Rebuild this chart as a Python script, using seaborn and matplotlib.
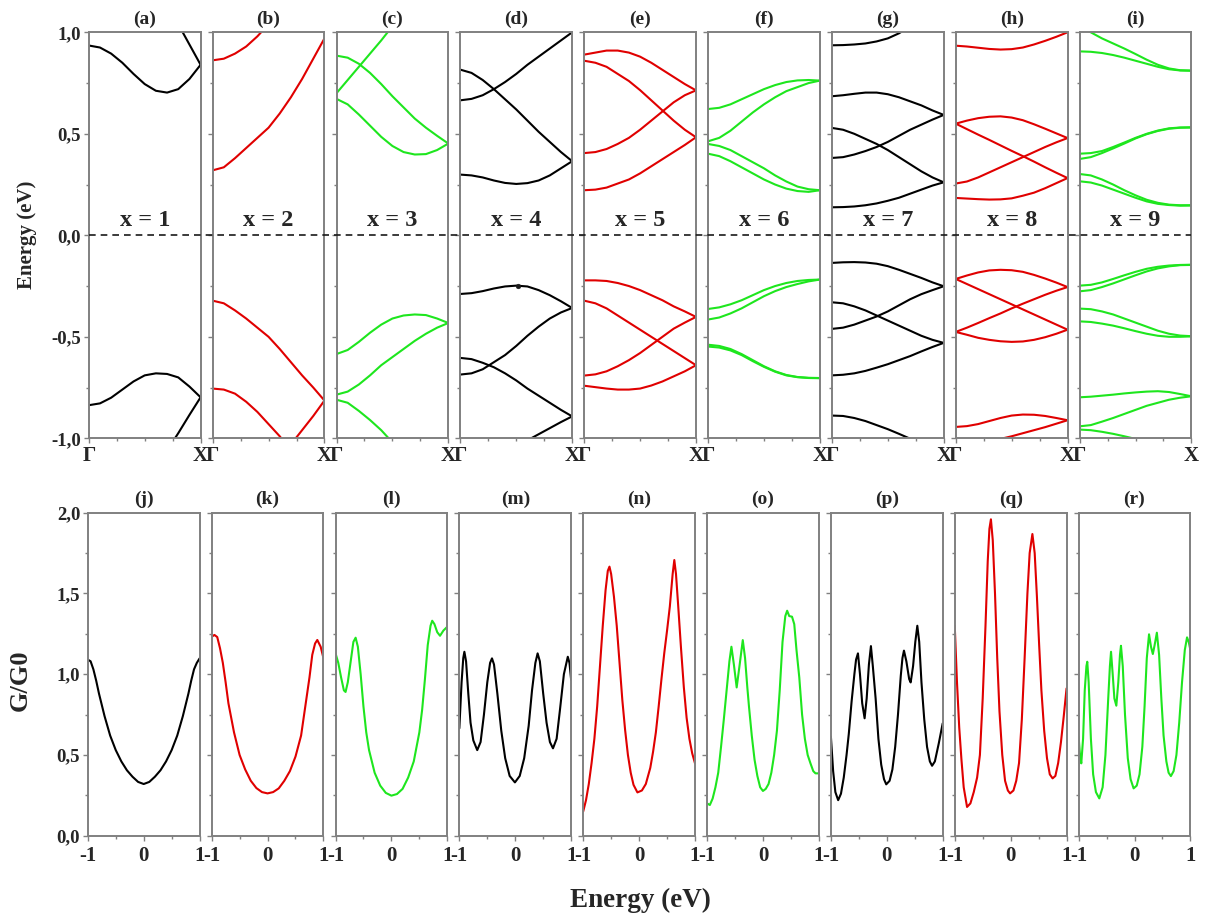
import numpy as np
import matplotlib
matplotlib.use("Agg")
import matplotlib.pyplot as plt
import seaborn as sns
from matplotlib.ticker import FixedLocator, FuncFormatter, NullFormatter

sns.set_theme(style="white")
plt.rcParams["font.family"] = ["Liberation Serif", "DejaVu Serif"]
plt.rcParams["font.weight"] = "bold"

N = np.nan
K = [0.0, 0.1, 0.2, 0.3, 0.4, 0.5, 0.6, 0.7, 0.8, 0.9, 1.0]

# ---------------- band structures (E at K) ----------------
bands_a = [
    [0.935, 0.925, 0.895, 0.85, 0.795, 0.745, 0.712, 0.703, 0.72, 0.77, 0.84],
    [N, N, N, N, N, N, N, N, 1.04, 0.94, 0.84],
    [-0.837, -0.828, -0.80, -0.76, -0.72, -0.69, -0.68, -0.683, -0.70, -0.745, -0.798],
    [N, N, N, N, N, N, N, -1.06, -0.975, -0.885, -0.798],
]
bands_b = [
    [0.862, 0.87, 0.895, 0.93, 0.98, 1.04, N, N, N, N, N],
    [0.32, 0.335, 0.38, 0.43, 0.48, 0.53, 0.6, 0.68, 0.77, 0.87, 0.97],
    [-0.322, -0.335, -0.37, -0.41, -0.455, -0.5, -0.56, -0.625, -0.69, -0.75, -0.814],
    [-0.755, -0.76, -0.78, -0.82, -0.87, -0.93, -0.99, -1.06, N, N, N],
    [N, N, N, N, N, N, -1.10, -1.03, -0.96, -0.89, -0.814],
]
bands_c = [
    [0.70, 0.765, 0.83, 0.895, 0.96, 1.03, N, N, N, N, N],
    [0.885, 0.875, 0.845, 0.80, 0.745, 0.685, 0.63, 0.575, 0.53, 0.49, 0.452],
    [0.672, 0.645, 0.595, 0.54, 0.485, 0.44, 0.41, 0.398, 0.40, 0.42, 0.452],
    [-0.585, -0.565, -0.525, -0.48, -0.44, -0.41, -0.395, -0.39, -0.393, -0.41, -0.432],
    [-0.785, -0.77, -0.735, -0.69, -0.64, -0.60, -0.56, -0.52, -0.485, -0.455, -0.432],
    [-0.81, -0.825, -0.865, -0.91, -0.96, -1.02, N, N, N, N, N],
]
bands_d = [
    [0.665, 0.672, 0.69, 0.72, 0.755, 0.795, 0.84, 0.88, 0.92, 0.96, 1.0],
    [0.816, 0.80, 0.765, 0.72, 0.67, 0.62, 0.565, 0.51, 0.46, 0.41, 0.365],
    [0.299, 0.295, 0.285, 0.27, 0.258, 0.253, 0.257, 0.27, 0.295, 0.33, 0.365],
    [-0.289, -0.285, -0.275, -0.262, -0.252, -0.248, -0.252, -0.27, -0.295, -0.325, -0.358],
    [-0.686, -0.68, -0.66, -0.625, -0.59, -0.545, -0.495, -0.45, -0.41, -0.38, -0.358],
    [-0.604, -0.61, -0.628, -0.65, -0.68, -0.715, -0.755, -0.79, -0.825, -0.86, -0.892],
    [N, N, N, N, N, N, -1.01, -0.98, -0.95, -0.92, -0.892],
]
dot_d = [0.52, -0.248]
bands_e = [
    [0.89, 0.90, 0.91, 0.91, 0.90, 0.88, 0.85, 0.815, 0.78, 0.745, 0.714],
    [0.86, 0.85, 0.83, 0.795, 0.76, 0.715, 0.665, 0.615, 0.565, 0.52, 0.483],
    [0.405, 0.41, 0.425, 0.45, 0.48, 0.52, 0.565, 0.61, 0.655, 0.69, 0.714],
    [0.222, 0.225, 0.235, 0.255, 0.275, 0.305, 0.34, 0.375, 0.41, 0.445, 0.483],
    [-0.222, -0.222, -0.225, -0.235, -0.25, -0.27, -0.295, -0.32, -0.35, -0.375, -0.402],
    [-0.322, -0.335, -0.36, -0.395, -0.43, -0.465, -0.50, -0.535, -0.57, -0.605, -0.64],
    [-0.691, -0.685, -0.67, -0.645, -0.615, -0.58, -0.54, -0.50, -0.46, -0.43, -0.402],
    [-0.741, -0.748, -0.755, -0.76, -0.76, -0.755, -0.74, -0.72, -0.695, -0.67, -0.64],
]
bands_f = [
    [0.622, 0.628, 0.645, 0.67, 0.695, 0.72, 0.74, 0.755, 0.763, 0.765, 0.762],
    [0.463, 0.48, 0.515, 0.56, 0.605, 0.645, 0.68, 0.71, 0.73, 0.75, 0.762],
    [0.45, 0.44, 0.42, 0.39, 0.36, 0.33, 0.295, 0.265, 0.24, 0.227, 0.222],
    [0.402, 0.39, 0.365, 0.335, 0.305, 0.275, 0.25, 0.23, 0.218, 0.214, 0.222],
    [-0.363, -0.355, -0.34, -0.32, -0.295, -0.27, -0.25, -0.235, -0.225, -0.22, -0.218],
    [-0.415, -0.405, -0.385, -0.36, -0.33, -0.30, -0.275, -0.255, -0.24, -0.227, -0.218],
    [-0.539, -0.545, -0.56, -0.585, -0.615, -0.645, -0.67, -0.688, -0.698, -0.702, -0.703],
    [-0.548, -0.553, -0.567, -0.59, -0.62, -0.648, -0.672, -0.69, -0.699, -0.703, -0.704],
]
bands_g = [
    [0.936, 0.937, 0.94, 0.945, 0.955, 0.97, 0.995, 1.03, N, N, N],
    [0.685, 0.69, 0.697, 0.703, 0.703, 0.695, 0.68, 0.66, 0.64, 0.615, 0.593],
    [0.529, 0.52, 0.50, 0.475, 0.45, 0.42, 0.385, 0.35, 0.315, 0.285, 0.261],
    [0.381, 0.385, 0.398, 0.415, 0.435, 0.46, 0.49, 0.52, 0.545, 0.57, 0.593],
    [0.138, 0.139, 0.142, 0.148, 0.157, 0.17, 0.185, 0.205, 0.225, 0.245, 0.261],
    [-0.136, -0.133, -0.132, -0.134, -0.14, -0.152, -0.17, -0.19, -0.21, -0.232, -0.251],
    [-0.33, -0.335, -0.35, -0.37, -0.395, -0.42, -0.445, -0.47, -0.495, -0.515, -0.53],
    [-0.461, -0.455, -0.44, -0.42, -0.40, -0.375, -0.345, -0.315, -0.29, -0.27, -0.251],
    [-0.69, -0.687, -0.68, -0.668, -0.652, -0.635, -0.615, -0.595, -0.572, -0.55, -0.53],
    [-0.888, -0.89, -0.90, -0.915, -0.935, -0.955, -0.978, -1.002, -1.03, N, N],
]
bands_h = [
    [0.934, 0.93, 0.924, 0.918, 0.915, 0.917, 0.925, 0.94, 0.958, 0.978, 1.0],
    [0.55, 0.565, 0.577, 0.584, 0.586, 0.58, 0.567, 0.547, 0.525, 0.502, 0.479],
    [0.55, 0.523, 0.496, 0.47, 0.443, 0.416, 0.39, 0.363, 0.335, 0.308, 0.282],
    [0.255, 0.265, 0.285, 0.31, 0.335, 0.36, 0.385, 0.41, 0.435, 0.458, 0.479],
    [0.184, 0.181, 0.178, 0.176, 0.177, 0.182, 0.195, 0.21, 0.232, 0.257, 0.282],
    [-0.215, -0.198, -0.183, -0.173, -0.17, -0.172, -0.18, -0.195, -0.213, -0.233, -0.255],
    [-0.215, -0.24, -0.265, -0.29, -0.315, -0.34, -0.365, -0.39, -0.415, -0.44, -0.465],
    [-0.476, -0.455, -0.432, -0.408, -0.385, -0.36, -0.337, -0.315, -0.293, -0.273, -0.255],
    [-0.476, -0.49, -0.505, -0.515, -0.522, -0.525, -0.523, -0.515, -0.502, -0.485, -0.465],
    [-0.944, -0.94, -0.93, -0.915, -0.90, -0.888, -0.883, -0.884, -0.89, -0.90, -0.911],
    [N, N, N, N, -1.003, -0.99, -0.975, -0.96, -0.945, -0.928, -0.911],
]
bands_i = [
    [1.03, 1.0, 0.97, 0.945, 0.92, 0.893, 0.865, 0.84, 0.822, 0.813, 0.811],
    [0.906, 0.904, 0.898, 0.888, 0.875, 0.86, 0.845, 0.83, 0.818, 0.812, 0.811],
    [0.402, 0.405, 0.415, 0.435, 0.457, 0.48, 0.50, 0.516, 0.527, 0.531, 0.532],
    [0.376, 0.385, 0.405, 0.428, 0.452, 0.477, 0.498, 0.514, 0.525, 0.53, 0.531],
    [0.302, 0.295, 0.275, 0.25, 0.222, 0.197, 0.175, 0.16, 0.151, 0.148, 0.148],
    [0.266, 0.26, 0.245, 0.225, 0.205, 0.185, 0.167, 0.155, 0.149, 0.146, 0.147],
    [-0.248, -0.244, -0.232, -0.215, -0.197, -0.18, -0.165, -0.155, -0.149, -0.146, -0.145],
    [-0.276, -0.27, -0.255, -0.237, -0.217, -0.197, -0.178, -0.163, -0.153, -0.147, -0.146],
    [-0.361, -0.364, -0.375, -0.39, -0.41, -0.43, -0.45, -0.47, -0.485, -0.494, -0.497],
    [-0.424, -0.427, -0.435, -0.445, -0.458, -0.472, -0.485, -0.495, -0.50, -0.50, -0.498],
    [-0.798, -0.795, -0.79, -0.785, -0.779, -0.774, -0.77, -0.768, -0.772, -0.782, -0.793],
    [-0.941, -0.935, -0.918, -0.90, -0.88, -0.86, -0.84, -0.825, -0.81, -0.80, -0.793],
    [-0.957, -0.96, -0.968, -0.978, -0.99, -1.003, N, N, N, N, N],
]
band_sets = [bands_a, bands_b, bands_c, bands_d, bands_e, bands_f, bands_g, bands_h, bands_i]
top_titles = ["(a)", "(b)", "(c)", "(d)", "(e)", "(f)", "(g)", "(h)", "(i)"]
x_labels = ["x = 1", "x = 2", "x = 3", "x = 4", "x = 5", "x = 6", "x = 7", "x = 8", "x = 9"]

# ---------------- conductance G/G0 vs energy ----------------
e_j = [-1, -0.95, -0.9, -0.85, -0.8, -0.75, -0.7, -0.6, -0.5, -0.4, -0.3, -0.2, -0.1, 0,
       0.1, 0.2, 0.3, 0.4, 0.5, 0.6, 0.7, 0.75, 0.8, 0.85, 0.9, 0.95, 1.0]
g_j = [1.09, 1.08, 1.03, 0.96, 0.88, 0.81, 0.74, 0.62, 0.53, 0.46, 0.405, 0.365, 0.333, 0.32,
       0.333, 0.365, 0.405, 0.46, 0.53, 0.62, 0.74, 0.81, 0.88, 0.96, 1.03, 1.07, 1.098]
e_k = [-1, -0.95, -0.9, -0.85, -0.8, -0.75, -0.7, -0.6, -0.5, -0.4, -0.3, -0.2, -0.1, 0,
       0.1, 0.2, 0.3, 0.4, 0.5, 0.6, 0.7, 0.75, 0.8, 0.85, 0.89, 0.95, 1.0]
g_k = [1.232, 1.243, 1.23, 1.16, 1.07, 0.95, 0.82, 0.64, 0.50, 0.41, 0.34, 0.295, 0.27, 0.262,
       0.27, 0.293, 0.34, 0.40, 0.49, 0.62, 0.86, 0.98, 1.12, 1.19, 1.212, 1.17, 1.10]
e_l = [-1, -0.95, -0.9, -0.85, -0.82, -0.78, -0.72, -0.68, -0.64, -0.6, -0.55, -0.5, -0.45, -0.4,
       -0.3, -0.2, -0.1, 0, 0.1, 0.2, 0.3, 0.4, 0.5, 0.55, 0.6, 0.65, 0.7, 0.73, 0.77, 0.82,
       0.87, 0.93, 1.0]
g_l = [1.13, 1.07, 0.98, 0.90, 0.89, 0.95, 1.10, 1.20, 1.226, 1.17, 1.0, 0.80, 0.64, 0.53,
       0.39, 0.31, 0.265, 0.248, 0.258, 0.29, 0.36, 0.46, 0.64, 0.78, 0.97, 1.18, 1.30, 1.331,
       1.31, 1.26, 1.238, 1.27, 1.294]
e_m = [-1, -0.96, -0.93, -0.91, -0.88, -0.84, -0.8, -0.75, -0.68, -0.62, -0.56, -0.5, -0.45,
       -0.416, -0.38, -0.32, -0.25, -0.18, -0.1, -0.006, 0.08, 0.16, 0.24, 0.3, 0.36, 0.40,
       0.44, 0.5, 0.56, 0.62, 0.675, 0.74, 0.8, 0.87, 0.94, 0.97, 1.0]
g_m = [0.665, 0.95, 1.1, 1.139, 1.08, 0.88, 0.70, 0.59, 0.53, 0.58, 0.75, 0.95, 1.07,
       1.098, 1.06, 0.88, 0.65, 0.48, 0.37, 0.33, 0.37, 0.48, 0.68, 0.90, 1.07, 1.129,
       1.08, 0.88, 0.70, 0.58, 0.541, 0.60, 0.78, 1.0, 1.108, 1.07, 0.964]
e_n = [-1, -0.95, -0.9, -0.85, -0.8, -0.75, -0.7, -0.65, -0.6, -0.56, -0.53, -0.5, -0.45, -0.4,
       -0.35, -0.3, -0.25, -0.2, -0.15, -0.1, -0.03, 0.05, 0.12, 0.2, 0.25, 0.3, 0.35, 0.4,
       0.45, 0.5, 0.55, 0.6, 0.63, 0.66, 0.7, 0.75, 0.8, 0.85, 0.9, 0.95, 1.0]
g_n = [0.15, 0.22, 0.32, 0.45, 0.60, 0.80, 1.05, 1.30, 1.52, 1.64, 1.666, 1.62, 1.48, 1.30,
       1.07, 0.84, 0.654, 0.50, 0.39, 0.315, 0.268, 0.28, 0.32, 0.42, 0.52, 0.64, 0.80, 0.97,
       1.13, 1.27, 1.42, 1.62, 1.707, 1.62, 1.42, 1.16, 0.92, 0.73, 0.60, 0.51, 0.448]
e_o = [-1, -0.95, -0.9, -0.85, -0.8, -0.75, -0.7, -0.65, -0.6, -0.564, -0.52, -0.47, -0.42,
       -0.361, -0.32, -0.28, -0.25, -0.2, -0.15, -0.1, -0.05, 0, 0.05, 0.1, 0.15, 0.2, 0.25,
       0.3, 0.35, 0.4, 0.433, 0.47, 0.52, 0.56, 0.6, 0.65, 0.7, 0.75, 0.8, 0.85, 0.9, 0.94, 1.0]
g_o = [0.20, 0.19, 0.23, 0.30, 0.39, 0.55, 0.72, 0.90, 1.08, 1.17, 1.06, 0.918, 1.05,
       1.211, 1.10, 0.92, 0.80, 0.62, 0.47, 0.37, 0.30, 0.277, 0.29, 0.32, 0.39, 0.50, 0.65,
       0.90, 1.20, 1.36, 1.393, 1.36, 1.356, 1.31, 1.15, 0.98, 0.75, 0.60, 0.50, 0.448, 0.40,
       0.386, 0.386]
e_p = [-1, -0.96, -0.92, -0.87, -0.82, -0.77, -0.72, -0.68, -0.63, -0.58, -0.55, -0.516,
       -0.48, -0.44, -0.397, -0.36, -0.32, -0.284, -0.25, -0.2, -0.15, -0.1, -0.05, -0.01,
       0.05, 0.1, 0.15, 0.2, 0.25, 0.28, 0.307, 0.35, 0.4, 0.427, 0.47, 0.51, 0.546, 0.58,
       0.62, 0.67, 0.72, 0.77, 0.81, 0.86, 0.93, 1.0]
g_p = [0.613, 0.40, 0.27, 0.22, 0.26, 0.36, 0.50, 0.63, 0.83, 1.0, 1.09, 1.129,
       1.0, 0.82, 0.727, 0.85, 1.06, 1.174, 1.05, 0.85, 0.60, 0.44, 0.35, 0.318,
       0.34, 0.41, 0.55, 0.75, 0.99, 1.10, 1.146, 1.08, 0.97, 0.949, 1.05, 1.20, 1.30, 1.20,
       0.95, 0.72, 0.55, 0.46, 0.433, 0.46, 0.572, 0.696]
e_q = [-1, -0.96, -0.92, -0.88, -0.84, -0.78, -0.72, -0.66, -0.6, -0.55, -0.5, -0.45, -0.41,
       -0.38, -0.353, -0.32, -0.28, -0.24, -0.2, -0.15, -0.1, -0.05, -0.01, 0.05, 0.1, 0.15,
       0.2, 0.25, 0.3, 0.34, 0.389, 0.43, 0.47, 0.51, 0.55, 0.6, 0.65, 0.7, 0.75, 0.8, 0.85,
       0.9, 0.95, 1.0]
g_q = [1.30, 0.95, 0.67, 0.47, 0.30, 0.178, 0.20, 0.27, 0.36, 0.50, 0.85, 1.30, 1.70,
       1.90, 1.959, 1.83, 1.50, 1.10, 0.77, 0.50, 0.34, 0.28, 0.262, 0.28, 0.34, 0.45,
       0.72, 1.10, 1.50, 1.75, 1.868, 1.75, 1.48, 1.18, 0.90, 0.65, 0.48, 0.38, 0.355, 0.37,
       0.45, 0.58, 0.74, 0.912]
e_r = [-1, -0.975, -0.952, -0.92, -0.89, -0.86, -0.845, -0.82, -0.78, -0.74, -0.69, -0.63,
       -0.57, -0.52, -0.47, -0.44, -0.42, -0.39, -0.36, -0.325, -0.29, -0.26, -0.242, -0.21,
       -0.17, -0.12, -0.07, -0.016, 0.04, 0.09, 0.14, 0.18, 0.22, 0.26, 0.295, 0.328, 0.36,
       0.40, 0.44, 0.48, 0.52, 0.57, 0.61, 0.651, 0.7, 0.75, 0.8, 0.85, 0.9, 0.94, 0.97, 1.0]
g_r = [0.613, 0.50, 0.448, 0.60, 0.90, 1.05, 1.077, 0.95, 0.60, 0.38, 0.27, 0.231,
       0.30, 0.50, 0.85, 1.05, 1.139, 1.0, 0.85, 0.805, 0.95, 1.12, 1.176, 1.05,
       0.75, 0.48, 0.35, 0.293, 0.31, 0.38, 0.55, 0.80, 1.10, 1.247, 1.17, 1.125, 1.18,
       1.257, 1.12, 0.85, 0.62, 0.46, 0.39, 0.369, 0.40, 0.50, 0.70, 0.95, 1.15, 1.228, 1.20, 1.15]
cond_E = [e_j, e_k, e_l, e_m, e_n, e_o, e_p, e_q, e_r]
cond_G = [g_j, g_k, g_l, g_m, g_n, g_o, g_p, g_q, g_r]
bottom_titles = ["(j)", "(k)", "(l)", "(m)", "(n)", "(o)", "(p)", "(q)", "(r)"]

colors = ["#000000", "#e00000", "#1ee61e"] * 3

# ---------------- layout ----------------
W, H = 1208, 919
fig = plt.figure(figsize=(W / 100, H / 100), dpi=100)
col_left = [88.8 + 123.85 * i for i in range(9)]
col_w = 111.8
top_y0, top_y1 = 32.3, 438.3
bot_y0, bot_y1 = 512.7, 835.7
spine_col = "#808080"


def frac_rect(x0, y0, w, y1):
    return [x0 / W, 1 - y1 / H, w / W, (y1 - y0) / H]


def comma(v, pos):
    return f"{v:.1f}".replace(".", ",")


def style_axes(ax, xsize, ysize):
    for s in ax.spines.values():
        s.set_color(spine_col)
        s.set_linewidth(1.4)
    ax.tick_params(which="both", direction="out", color=spine_col, width=1.0,
                   pad=2, bottom=True, left=True)
    ax.tick_params(axis="x", labelsize=xsize)
    ax.tick_params(axis="y", labelsize=ysize)
    ax.tick_params(which="major", length=3.5)
    ax.tick_params(which="minor", length=2.5)
    for lab in ax.get_xticklabels() + ax.get_yticklabels():
        lab.set_fontweight("bold")


def draw_line(ax, x, y, color, lw):
    x = np.asarray(x, float)
    y = np.asarray(y, float)
    m = ~np.isnan(y)
    sns.lineplot(x=x[m], y=y[m], ax=ax, color=color, linewidth=lw, sort=False,
                 estimator=None, legend=False)


for i in range(9):
    # top row
    ax = fig.add_axes(frac_rect(col_left[i], top_y0, col_w, top_y1))
    for band in band_sets[i]:
        draw_line(ax, K, band, colors[i], 1.5)
    if i == 3:
        sns.scatterplot(x=[dot_d[0]], y=[dot_d[1]], ax=ax, color="k", s=12,
                        edgecolor="k", legend=False, zorder=5)
    ax.set_xlim(0, 1)
    ax.set_ylim(-1, 1)
    ax.xaxis.set_major_locator(FixedLocator([0, 1]))
    ax.xaxis.set_minor_locator(FixedLocator([0.25, 0.5, 0.75]))
    ax.set_xticklabels(["\u0393", "X"])
    ax.yaxis.set_major_locator(FixedLocator([-1, -0.5, 0, 0.5, 1]))
    ax.yaxis.set_minor_locator(FixedLocator([-0.75, -0.25, 0.25, 0.75]))
    if i == 0:
        ax.yaxis.set_major_formatter(FuncFormatter(comma))
    else:
        ax.yaxis.set_major_formatter(NullFormatter())
    ax.set_xlabel("")
    ax.set_ylabel("")
    style_axes(ax, 15, 13.5)
    ax.set_title(top_titles[i], fontsize=14, fontweight="bold", pad=6)
    ax.text(0.5, 0.075, x_labels[i], ha="center", va="center", fontsize=17.5,
            fontweight="bold", transform=ax.transData)

    # bottom row
    bx = fig.add_axes(frac_rect(col_left[i] - 1.0, bot_y0, col_w, bot_y1))
    draw_line(bx, cond_E[i], cond_G[i], colors[i], 1.5)
    bx.set_xlim(-1, 1)
    bx.set_ylim(0, 2)
    bx.xaxis.set_major_locator(FixedLocator([-1, 0, 1]))
    bx.xaxis.set_minor_locator(FixedLocator([-0.5, 0.5]))
    bx.xaxis.set_major_formatter(FuncFormatter(lambda v, p: f"{v:.0f}"))
    bx.yaxis.set_major_locator(FixedLocator([0, 0.5, 1, 1.5, 2]))
    bx.yaxis.set_minor_locator(FixedLocator([0.25, 0.75, 1.25, 1.75]))
    if i == 0:
        bx.yaxis.set_major_formatter(FuncFormatter(comma))
    else:
        bx.yaxis.set_major_formatter(NullFormatter())
    bx.set_xlabel("")
    bx.set_ylabel("")
    style_axes(bx, 15, 13.5)
    bx.tick_params(axis="x", which="major", pad=4)
    bx.set_title(bottom_titles[i], fontsize=14, fontweight="bold", pad=6)

# dashed Fermi level across the whole top row
ov = fig.add_axes(frac_rect(col_left[0], top_y0, col_left[8] + col_w - col_left[0], top_y1))
ov.set_xlim(0, 1)
ov.set_ylim(-1, 1)
ov.axis("off")
ov.axhline(0, color="k", linewidth=1.2, linestyle=(0, (4, 3)))

fig.text(27 / W, 1 - 235 / H, "Energy (eV)", rotation=90, ha="center", va="center",
         fontsize=15, fontweight="bold")
fig.text(20 / W, 1 - 680 / H, "G/G0", rotation=90, ha="center", va="center",
         fontsize=19, fontweight="bold")
fig.text(640 / W, 1 - 900 / H, "Energy (eV)", ha="center", va="center",
         fontsize=19.5, fontweight="bold")

fig.savefig("out.png", dpi=100, facecolor="white")
